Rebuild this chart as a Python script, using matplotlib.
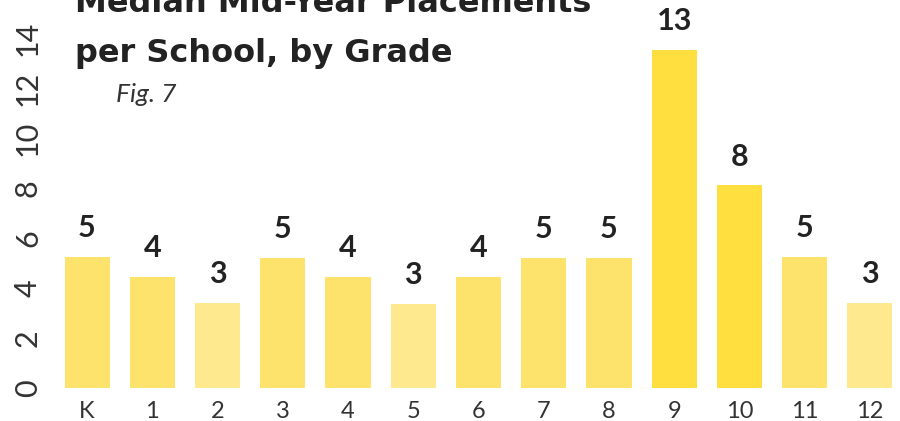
import matplotlib
matplotlib.use("Agg")
import matplotlib.pyplot as plt

grades = ["K", "1", "2", "3", "4", "5", "6", "7", "8", "9", "10", "11", "12"]
placements = [5.25, 4.45, 3.4, 5.2, 4.45, 3.35, 4.45, 5.2, 5.2, 13.5, 8.1, 5.25, 3.4]
labels = ["5", "4", "3", "5", "4", "3", "4", "5", "5", "13", "8", "5", "3"]
bar_colors = ["#fde36c", "#fde36c", "#fee98e", "#fde36c", "#fde36c", "#fee98e", "#fde36c",
              "#fde36c", "#fde36c", "#ffde40", "#ffde40", "#fde36c", "#fee98e"]

plt.rcParams['font.family'] = ['Lato', 'DejaVu Sans']

fig = plt.figure(figsize=(9, 4.21), dpi=100)
ax = fig.add_axes([60 / 900, 33 / 421, 840 / 900, 388 / 421])

x = range(len(grades))
ax.bar(x, placements, width=0.69, color=bar_colors)
for i, v in enumerate(placements):
    ax.text(i, v + 0.6, labels[i], ha='center', va='bottom', fontsize=22,
            fontweight='bold', color='#222222')

ax.set_xlim(-0.414, 12.46)
ax.set_ylim(0, 15.52)
ax.set_xticks(list(x))
ax.set_xticklabels(grades, fontsize=17, color='#333333')
ax.set_yticks(range(0, 15, 2))
ax.set_yticklabels([str(v) for v in range(0, 15, 2)], rotation=90, fontsize=22,
                   color='#333333', va='center')
ax.tick_params(length=0)
ax.tick_params(axis='y', pad=13)
ax.tick_params(axis='x', pad=9)
for s in ax.spines.values():
    s.set_visible(False)

title_font = ['DejaVu Sans']
fig.text(75 / 900, 1 - 12 / 421, "Median Mid-Year Placements", fontsize=23,
         fontweight='bold', color='#222222', va='baseline', family=title_font)
fig.text(75 / 900, 1 - 62 / 421, "per School, by Grade", fontsize=23,
         fontweight='bold', color='#222222', va='baseline', family=title_font)
fig.text(116 / 900, 1 - 102 / 421, "Fig. 7", fontsize=19, style='italic',
         color='#333333', va='baseline')

fig.savefig("out.png", dpi=100)
